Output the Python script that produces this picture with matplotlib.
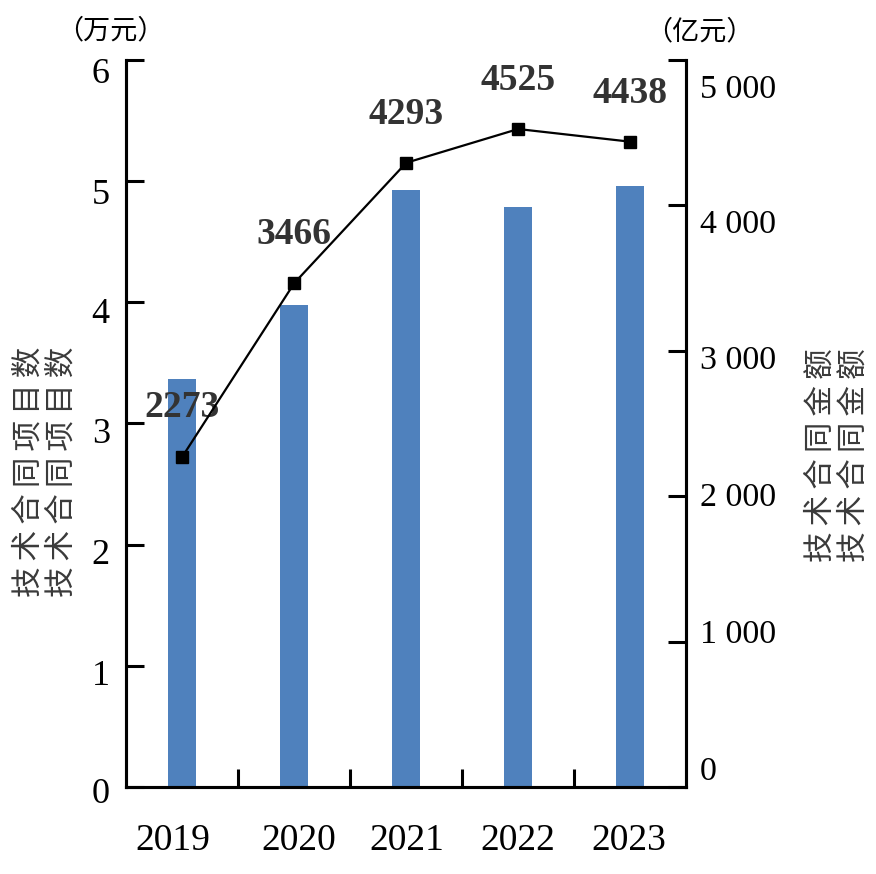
import matplotlib
matplotlib.use("Agg")
import matplotlib.pyplot as plt
from matplotlib.transforms import ScaledTranslation

plt.rcParams['font.family'] = ['Liberation Serif', 'Noto Sans CJK SC']

years = ["2019", "2020", "2021", "2022", "2023"]
contracts = [3.37, 3.98, 4.93, 4.79, 4.96]       # 技术合同项目数 (left axis)
amounts = [2273, 3466, 4293, 4525, 4438]         # 技术合同金额 (right axis)
left_ticks = [0, 1, 2, 3, 4, 5, 6]
right_ticks = [0, 1000, 2000, 3000, 4000, 5000]
right_labels = ["0", "1 000", "2 000", "3 000", "4 000", "5 000"]

fig = plt.figure(figsize=(8.76, 8.74), dpi=100)
ax = fig.add_axes([0.1444, 0.0995, 0.7831 - 0.1444, 0.9314 - 0.0995])
ax2 = ax.twinx()

x = list(range(len(years)))
ax.bar(x, contracts, width=0.25, color="#4F81BD", zorder=2)
ax.set_xlim(-0.5, 4.5)
ax.set_ylim(0, 6)
ax.set_yticks(left_ticks)
ax.set_xticks(x)
ax.set_xticklabels(years, fontsize=27)
ax.set_xticks([0.5, 1.5, 2.5, 3.5], minor=True)
ax.tick_params(axis="x", which="major", length=0, pad=26)
ax.tick_params(axis="x", which="minor", length=13, width=2.2, direction="in")
ax.tick_params(axis="y", length=13, width=2.2, direction="in", labelsize=26, pad=12)

ax2.plot(x, amounts, color="black", lw=1.6, marker="s", markersize=8.5, zorder=3)
ax2.set_ylim(0, 5000)
ax2.set_yticks(right_ticks)
ax2.set_yticklabels(right_labels)
ax2.tick_params(axis="y", length=13, width=2.2, direction="in", labelsize=24.5, pad=10)

for a in (ax, ax2):
    a.spines["top"].set_visible(False)
    for s in ("left", "right", "bottom"):
        a.spines[s].set_linewidth(2.2)

# nudge tick labels the way the original has them
left_shift = [3, 7, 7, 7, 8, 10, 11]
for lab, d in zip(ax.get_yticklabels(), left_shift):
    lab.set_transform(lab.get_transform() + ScaledTranslation(0, -d / 100, fig.dpi_scale_trans))
right_shift = [-19, -10, -2, 6, 16, 26]
for lab, d in zip(ax2.get_yticklabels(), right_shift):
    lab.set_transform(lab.get_transform() + ScaledTranslation(0, -d / 100, fig.dpi_scale_trans))
year_shift = [-10, 4, 1, 0, -1]
for lab, d in zip(ax.get_xticklabels(), year_shift):
    lab.set_transform(lab.get_transform() + ScaledTranslation(d / 100, 0, fig.dpi_scale_trans))

for xi, v in zip(x, amounts):
    ax2.annotate(str(v), (xi, v), xytext=(0, 35), textcoords="offset points",
                 ha="center", va="center", fontsize=27, fontweight="bold",
                 color="#333333", zorder=1)

cjk = ['Noto Sans CJK SC', 'DejaVu Sans']
fig.text(110 / 876, 1 - 31 / 874, "（万元）", family=cjk, fontsize=19.5, ha="center", va="center")
fig.text(699 / 876, 1 - 32 / 874, "（亿元）", family=cjk, fontsize=19.5, ha="center", va="center")

# the original axis titles show a doubled print, kept as two copies
left_title = "\u2009".join("技术合同项目数")
right_title = "\u2009".join("技术合同金额")
for xc in (29, 62):
    fig.text(xc / 876, 1 - 472 / 874, left_title, family=cjk, fontsize=22,
             rotation=90, ha="center", va="center", color="#3a3a3a")
for xc in (821, 854):
    fig.text(xc / 876, 1 - 455 / 874, right_title, family=cjk, fontsize=22,
             rotation=90, ha="center", va="center", color="#3a3a3a")

fig.savefig("out.png", dpi=100)
